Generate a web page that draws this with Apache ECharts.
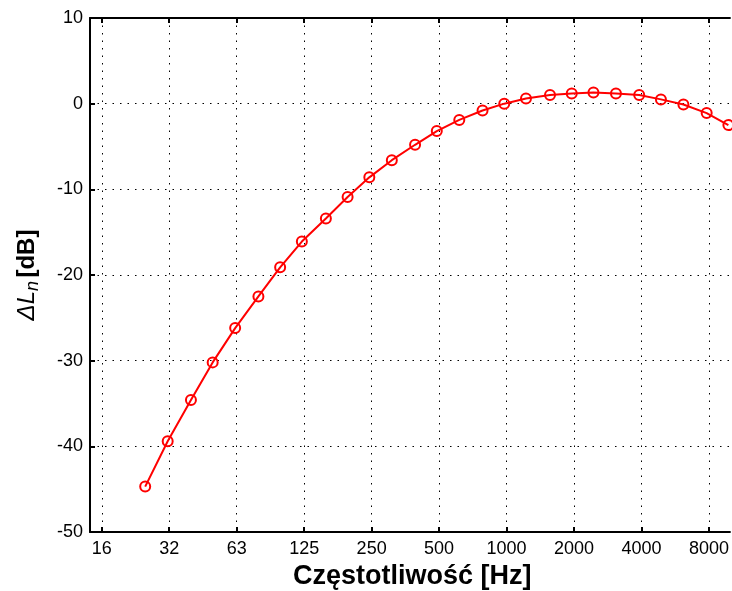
<!DOCTYPE html>
<html>
<head>
<meta charset="utf-8">
<style>html,body{margin:0;padding:0;background:#fff;}#chart{width:732px;height:591px;}</style>
<script src="https://cdn.jsdelivr.net/npm/echarts@6/dist/echarts.min.js"></script>
</head>
<body>
<div id="chart"></div>
<script>
// Data (1/3-octave bands)
const FREQ_HZ = [25, 31.5, 40, 50, 63, 80, 100, 125, 160, 200, 250, 315, 400, 500, 630, 800, 1000, 1250, 1600, 2000, 2500, 3150, 4000, 5000, 6300, 8000, 10000];
const DELTA_LN = [-44.7, -39.4, -34.6, -30.2, -26.2, -22.5, -19.1, -16.1, -13.4, -10.9, -8.6, -6.6, -4.8, -3.2, -1.9, -0.8, 0, 0.6, 1.0, 1.2, 1.3, 1.2, 1.0, 0.5, -0.1, -1.1, -2.5];
// Octave tick positions (Hz) and their labels
const TICK_HZ = [16, 32, 64, 128, 256, 512, 1024, 2048, 4096, 8192];
const TICK_LABELS = ['16', '32', '63', '125', '250', '500', '1000', '2000', '4000', '8000'];
// visible part of the frequency axis (the plot continues past the right edge)
const X_RANGE_HZ = [14.18, 10160];
const Y_MIN = -50, Y_MAX = 10, Y_STEP = 10;

const log2 = v => Math.log(v) / Math.LN2;
const tickPos = TICK_HZ.map(log2);
const seriesData = FREQ_HZ.map((f, i) => [log2(f), DELTA_LN[i]]);
const FONT = 'Liberation Sans, Arial, sans-serif';

const chart = echarts.init(document.getElementById('chart'), null, {renderer: 'canvas'});
const xCommon = {
  type: 'value',
  min: log2(X_RANGE_HZ[0]),
  max: log2(X_RANGE_HZ[1]),
  axisLine: {onZero: false, lineStyle: {color: '#000', width: 2}},
  axisTick: {inside: true, length: 5, customValues: tickPos, lineStyle: {color: '#000', width: 2}}
};
chart.setOption({
  animation: false,
  backgroundColor: '#fff',
  title: {
    text: 'Częstotliwość [Hz]',
    left: 293, top: 563, padding: 0,
    textStyle: {fontFamily: FONT, fontWeight: 'bold', fontSize: 27, color: '#000'}
  },
  grid: {left: 90, top: 18, right: 0, height: 514, containLabel: false},
  xAxis: [
    Object.assign({}, xCommon, {
      position: 'bottom',
      axisLabel: {
        customValues: tickPos, margin: 8, color: '#000', fontFamily: FONT, fontSize: 18,
        formatter: v => {
          const i = tickPos.findIndex(t => Math.abs(t - v) < 1e-6);
          return i >= 0 ? TICK_LABELS[i] : '';
        }
      },
      splitLine: {show: true, lineStyle: {color: '#000', width: 1, type: [1.5, 6]}}
    }),
    Object.assign({}, xCommon, {
      position: 'top',
      axisLabel: {show: false},
      splitLine: {show: false}
    })
  ],
  yAxis: [{
    type: 'value',
    min: Y_MIN, max: Y_MAX, interval: Y_STEP,
    position: 'left',
    axisLine: {onZero: false, lineStyle: {color: '#000', width: 2}},
    axisTick: {inside: true, length: 5, lineStyle: {color: '#000', width: 2}},
    axisLabel: {margin: 7, color: '#000', fontFamily: FONT, fontSize: 18},
    splitLine: {show: true, lineStyle: {color: '#000', width: 1, type: [1.5, 6]}},
    name: '{a|ΔL}{s|n} {u|[dB]}',
    nameLocation: 'middle',
    nameGap: 48,
    nameRotate: 90,
    nameTextStyle: {
      color: '#000',
      rich: {
        a: {fontFamily: FONT, fontStyle: 'italic', fontSize: 24, color: '#000', lineHeight: 30, verticalAlign: 'middle'},
        s: {fontFamily: FONT, fontStyle: 'italic', fontSize: 18, color: '#000', lineHeight: 30, verticalAlign: 'bottom'},
        u: {fontFamily: FONT, fontWeight: 'bold', fontSize: 24, color: '#000', lineHeight: 30, verticalAlign: 'middle'}
      }
    }
  }],
  series: [{
    type: 'line',
    data: seriesData,
    xAxisIndex: 0,
    yAxisIndex: 0,
    symbol: 'circle',
    symbolSize: 10,
    showAllSymbol: true,
    clip: false,
    lineStyle: {color: '#ff0000', width: 2},
    itemStyle: {color: 'rgba(0,0,0,0)', borderColor: '#ff0000', borderWidth: 2},
    emphasis: {disabled: true}
  }]
});
</script>
</body>
</html>
